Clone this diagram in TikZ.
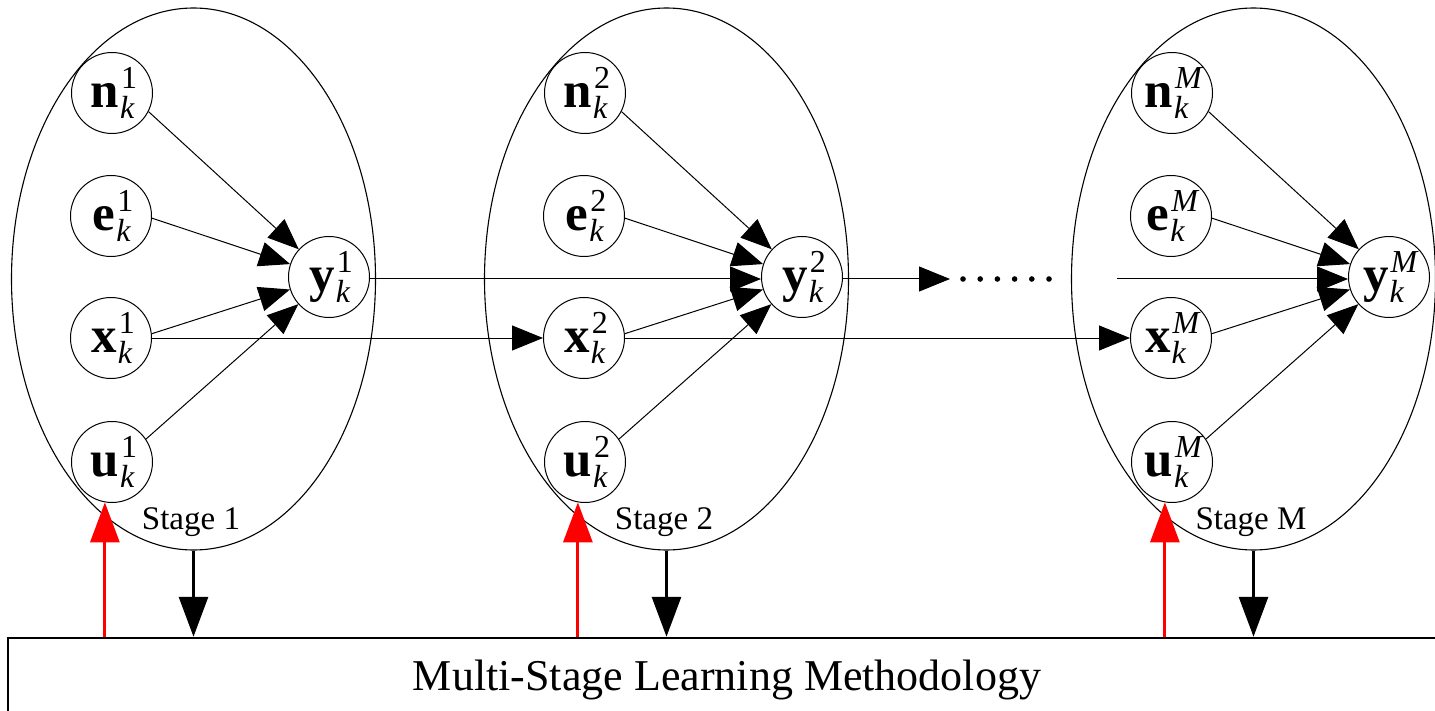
\documentclass[tikz,border=0pt]{standalone}
\usepackage{fontspec}
\setmainfont{Liberation Serif}
\usetikzlibrary{arrows.meta,shapes.geometric}

% bold variable with a superscript stage index and a subscript k
\newcommand\vlab[2]{%
  \kern4pt\textbf{#1}\kern2pt
  \setbox0=\hbox{\fontsize{32}{32}\selectfont #2}%
  \setbox2=\hbox{\fontsize{32}{32}\selectfont\itshape k}%
  \ifdim\wd0>\wd2 \dimen0=\wd0 \else \dimen0=\wd2 \fi
  \rlap{\raise19pt\box0}\rlap{\kern-1pt\lower11pt\box2}\kern\dimen0}

\tikzset{
  stagebox/.style={draw, ellipse, line width=1.1pt, inner sep=0pt,
    minimum width=364pt, minimum height=542pt},
  var/.style={draw, circle, line width=1pt, inner sep=0pt, minimum size=81pt,
    font=\fontsize{51}{60}\selectfont},
  stagelabel/.style={font=\fontsize{33}{40}\selectfont, inner sep=0pt},
  conn/.style={line width=1pt, -{Triangle[length=31pt,width=25pt]}},
  feedback/.style={red, line width=3pt, -{Triangle[length=40pt,width=29pt]}},
  output/.style={line width=3pt, -{Triangle[length=40pt,width=29pt]}},
  methodbox/.style={draw, line width=2.5pt, minimum width=1438pt,
    minimum height=84pt, inner sep=0pt, font=\fontsize{44}{50}\selectfont}
}

\begin{document}
\begin{tikzpicture}[x=1pt, y=-1pt]
  \useasboundingbox (0,0) rectangle (1435,711);

  % learning methodology bar along the bottom
  \node[methodbox] (mslm) at (727,680) {Multi-Stage Learning Methodology};

  % one stage: inputs n, e, x, u feed the output y
  \foreach \dx/\supr/\lab/\id in {0/1/1/1, 473/2/2/2, 1060/\textit{M}/M/M} {
    \begin{scope}[xshift=\dx pt]
      \node[stagebox] (s\id) at (193.5,279) {};
      \node[var] (n\id) at (112,93)  {\vlab{n}{\supr}};
      \node[var] (e\id) at (111,216) {\vlab{e}{\supr}};
      \node[var] (x\id) at (111,338) {\vlab{x}{\supr}};
      \node[var] (u\id) at (112,462) {\vlab{u}{\supr}};
      \node[var] (y\id) at (329,277) {\vlab{y}{\supr}};
      \node[stagelabel] (l\id) at (191,522) {Stage \lab};
      \draw[conn] (n\id.-27) -- (y\id);
      \draw[conn] (e\id.-3) -- (y\id);
      \draw[conn] (x\id.6) -- (y\id);
      \draw[conn] (u\id.34) -- (y\id);
      \draw[feedback] (u\id.260 |- mslm.north) -- (u\id.260);
      \draw[output] (s\id.south) -- (s\id.south |- mslm.north);
    \end{scope}
  }

  % links between consecutive stages
  \coordinate (dotsL) at (950,279);
  \coordinate (dotsR) at (1117,279);
  \draw[conn] (y1.east |- dotsL) -- (y2.west |- dotsL);
  \draw[conn] (x1.east) -- (x2.west);
  \draw[conn] (y2.east |- dotsL) -- (dotsL);
  \draw[conn] (dotsR) -- (yM.west |- dotsR);
  \draw[conn] (x2.east) -- (xM.west);
  \foreach \k in {0,...,5}
    \fill (963+17.2*\k,279) circle (2.8pt);
\end{tikzpicture}
\end{document}
